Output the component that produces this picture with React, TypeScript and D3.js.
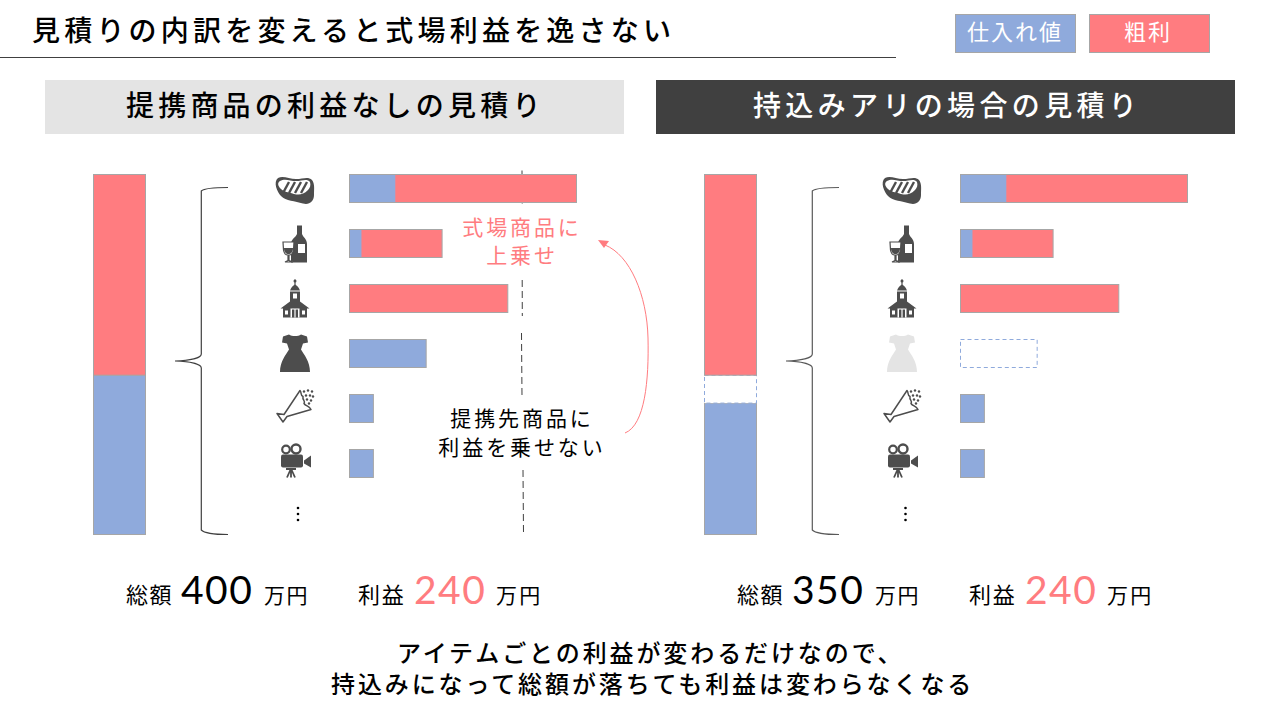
import React from "react";
import * as d3 from "d3";

const BLUE = "#8faadc";
const RED = "#ff7c80";
const EDGE = "#a6a6a6";
const DARK = "#404040";
const ICON = "#4d4d4d";
const JP = "'Noto Sans CJK JP', sans-serif";

// values (horizontal bar lengths / stack heights, arbitrary chart units)
const rowKeys = ["steak", "wine", "church", "dress", "flower", "camera"];
const costValues = [46, 12, 0, 77, 24, 24];
const profitValues = [182, 81, 159, 0, 0, 0];
const leftStack = [177, 223];
const rightStack = [146, 31, 223];
const panelOffsets = [0, 611];
const totals = ["400", "350"];
const profits = ["240", "240"];

const rowY = d3.scaleBand<string>().domain(rowKeys).range([174.5, 477.5]).paddingInner(27 / 55).paddingOuter(0);
const barX = d3.scaleLinear().domain([0, 228]).range([349.5, 576.5]);
const stackY = d3.scaleLinear().domain([0, 400]).range([534, 174]);

const dashSegments = [[170.5, 204, 522, 522.2], [280, 316, 522.2, 522.3], [333, 397, 521.5, 522], [470, 534, 523, 523.5]];
const dots = [-6, 0, 6];

function Txt({ x, y, s, size, ls = 0, fill = "#000", w = 400, anchor = "start", font = JP }: any) {
  return (
    <text x={x} y={y} fontSize={size} letterSpacing={ls} fill={fill} fontWeight={w} textAnchor={anchor} fontFamily={font}>
      {s}
    </text>
  );
}

function Icon({ name, fill }: { name: string; fill: string }) {
  const white = "#fff";
  if (name === "steak")
    return (
      <g transform="translate(0,1.5)">
        <path d="M-17,-12 C-12,-15 -6,-11 1,-11 C8,-11 13,-14 17,-10 C20,-6 19,-1 19,5 C19,12 14,15 8,13.5 C0,11 -9,11 -14,6 C-18,2 -22,-8 -17,-12Z" fill={fill} />
        <path d="M-15,-9 C-10,-12 -5,-9 1,-9 C7,-9 12,-12 15,-8 C16,-5 15,-2 13,0 C8,5 4,5 -1,4 C-7,2 -11,2 -14,-1 C-17,-4 -18,-7 -15,-9Z" fill={white} />
        {[-10, -4, 2, 8].map((d) => (
          <path key={d} d={`M${d - 2},3 L${d + 4},-8`} stroke={fill} strokeWidth={2.4} />
        ))}
      </g>
    );
  if (name === "wine")
    return (
      <g transform="translate(0,0.5)">
        <path d="M2,-18.5 H7 V-10 C8,-7 12,-5 12,0 V18.5 H-4 V0 C-4,-5 1,-7 2,-10 Z" fill={fill} />
        <rect x={3} y={0} width={7} height={9} fill={white} />
        <path d="M-12,-2 H-1 L-1.5,6 C-2,9 -4,11 -6,11 V16.5 L-2,18 H-10 L-7,16.5 V11 C-9,11 -11,9 -11.5,6 Z" fill={white} stroke={fill} strokeWidth={1.2} />
        <path d="M-11,4 H-2 C-2,8 -4,10 -6.5,10 C-9,10 -11,8 -11,4Z" fill={fill} />
      </g>
    );
  if (name === "church")
    return (
      <g>
        <circle cx={0} cy={-17.5} r={1.5} fill={fill} />
        <path d="M-0.6,-19 H0.6 V-13 H-0.6Z" fill={fill} />
        <path d="M-5,-8 C-4,-11 -2,-13 0,-14 C2,-13 4,-11 5,-8Z" fill={fill} />
        <path d="M-5,-7 H5 V3 L14.5,10 H-14.5 L-5,3Z" fill={fill} />
        <path d="M-12,9 H12 V19 H-12Z" fill={fill} />
        <rect x={-2} y={-5} width={4} height={5} fill={white} />
        <rect x={-10} y={12} width={3} height={4} fill={white} />
        <rect x={7} y={12} width={3} height={4} fill={white} />
        <rect x={-4.5} y={10} width={9} height={9} fill={white} />
        <rect x={-3} y={11} width={2.4} height={8} fill={fill} />
        <rect x={0.6} y={11} width={2.4} height={8} fill={fill} />
      </g>
    );
  if (name === "dress")
    return (
      <path d="M-6,-19 C-3,-17 3,-17 6,-19 L12,-17 L13,-11 L8,-10 L6,-4 C9,1 15,8 15,18.5 H-15 C-15,8 -9,1 -6,-4 L-8,-10 L-13,-11 L-12,-17Z" fill={fill} />
    );
  if (name === "flower")
    return (
      <g transform="translate(0,-3)">
        <path d="M5,-15 L-11,9 L-18,8 L-12,16.5 L-8,11 L16,4 C14,0 11,1 9,-2 C11,-5 7,-5 8,-9 C5,-10 7,-13 5,-15Z" fill="none" stroke={fill} strokeWidth={1.5} strokeLinejoin="round" />
        {[[9, -14], [13, -15], [17, -14], [11, -10], [15, -10], [18, -9], [12, -6], [16, -5], [14, -2]].map(([x, y], i) => (
          <circle key={i} cx={x} cy={y} r={1.2} fill={fill} />
        ))}
      </g>
    );
  return (
    <g transform="translate(0,-2)">
      <circle cx={-9} cy={-12} r={3.8} fill="none" stroke={fill} strokeWidth={2.2} />
      <circle cx={1} cy={-12.5} r={4.5} fill="none" stroke={fill} strokeWidth={2.4} />
      <rect x={-14} y={-7} width={22} height={13} rx={2} fill={fill} />
      <path d="M9,-1 L16,-6 V6 L9,2Z" fill={fill} />
      <path d="M-4,7 L-8,16 M-4,7 V16 M-4,7 L0,16" stroke={fill} strokeWidth={1.8} fill="none" />
      <rect x={-9} y={6.5} width={10} height={2} fill={fill} />
    </g>
  );
}

function Brace({ dx }: { dx: number }) {
  const path = `M228,187.5 C215,187.5 204,188.5 201.3,191 V354 C201.3,358 190,360.5 175,361 C190,361.5 201.3,364 201.3,368 V530 C204,533 215,534.5 228,534.5`;
  return <path d={path} transform={`translate(${dx},0)`} fill="none" stroke={dx ? "#595959" : DARK} strokeWidth={1.2} />;
}

function Panel({ dx, index }: { dx: number; index: number }) {
  const iconDx = index === 0 ? 295 : 902;
  const dressMissing = index === 1;
  return (
    <g>
      {rowKeys.map((key, i) => {
        const y = rowY(key)!;
        const h = rowY.bandwidth();
        const cost = costValues[i];
        const profit = profitValues[i];
        const ghost = dressMissing && key === "dress";
        const x0 = barX(0) + dx;
        const x1 = barX(cost) + dx;
        const x2 = barX(cost + profit) + dx;
        return (
          <g key={key}>
            <g transform={`translate(${iconDx},${y + h / 2})`}>
              <Icon name={key} fill={ghost ? "#e4e4e4" : ICON} />
            </g>
            {ghost ? (
              <rect x={x0} y={y} width={x1 - x0} height={h} fill="#fff" stroke={BLUE} strokeWidth={1} strokeDasharray="4 3" />
            ) : (
              <>
                <rect x={x0} y={y} width={x2 - x0} height={h} fill={profit ? RED : BLUE} stroke={EDGE} strokeWidth={1} />
                {cost > 0 && profit > 0 && <rect x={x0 + 0.5} y={y + 0.5} width={x1 - x0 - 0.5} height={h - 1} fill={BLUE} />}
              </>
            )}
          </g>
        );
      })}
      {dots.map((d) => (
        <circle key={d} cx={index === 0 ? 298 : 905.5} cy={514 + d} r={1.3} fill="#000" />
      ))}
      <Brace dx={dx} />
    </g>
  );
}

function Stack({ values, dx }: { values: number[]; dx: number }) {
  const hasGap = values.length === 3;
  const cum = d3.cumsum(values);
  return (
    <g>
      {values.map((v, i) => {
        const y1 = stackY(cum[i]);
        const y0 = stackY(cum[i] - v);
        const isRed = i === values.length - 1;
        const isGap = hasGap && i === 1;
        return (
          <rect
            key={i}
            x={93.5 + dx}
            y={y1 + 0.5}
            width={52}
            height={y0 - y1}
            fill={isGap ? "#fff" : isRed ? RED : BLUE}
            stroke={isGap ? BLUE : EDGE}
            strokeWidth={1}
            strokeDasharray={isGap ? "4 3" : undefined}
          />
        );
      })}
    </g>
  );
}

export default function App() {
  return (
    <svg width={1280} height={720} viewBox="0 0 1280 720" style={{ position: "fixed", left: 0, top: 0, background: "#fff" }}>
      <Txt x={32} y={41} s="見積りの内訳を変えると式場利益を逸さない" size={28} ls={4.2} w={500} />
      <line x1={0} x2={896} y1={57.5} y2={57.5} stroke={DARK} strokeWidth={1} />
      <rect x={955.5} y={14.5} width={120} height={38} fill={BLUE} stroke={EDGE} />
      <rect x={1089.5} y={14.5} width={120} height={38} fill={RED} stroke={EDGE} />
      <Txt x={967} y={40} s="仕入れ値" size={22} ls={2} fill="#fff" />
      <Txt x={1124} y={40} s="粗利" size={22} ls={2} fill="#fff" />

      <rect x={45} y={80} width={579} height={54} fill="#e4e4e4" />
      <rect x={656} y={80} width={579} height={54} fill={DARK} />
      <Txt x={126} y={116} s="提携商品の利益なしの見積り" size={28} ls={4.2} w={500} />
      <Txt x={753} y={116} s="持込みアリの場合の見積り" size={28} ls={4.35} w={500} fill="#fff" />

      {dashSegments.map(([y1, y2, x1, x2], i) => (
        <line key={i} x1={x1} x2={x2} y1={y1} y2={y2} stroke={DARK} strokeWidth={1} strokeDasharray="7 4" />
      ))}

      <Stack values={leftStack} dx={0} />
      <Stack values={rightStack} dx={611} />
      {panelOffsets.map((dx, i) => (
        <Panel key={dx} dx={dx} index={i} />
      ))}

      <Txt x={522} y={235} s="式場商品に" size={21} ls={2.9} fill={RED} anchor="middle" />
      <Txt x={522} y={263} s="上乗せ" size={21} ls={2.9} fill={RED} anchor="middle" />
      <Txt x={522} y={426} s="提携先商品に" size={21} ls={2.9} anchor="middle" />
      <Txt x={522} y={455} s="利益を乗せない" size={21} ls={2.9} anchor="middle" />

      <path d="M625,433 C645,425 649,380 648,338 C647,295 630,255 605,245" fill="none" stroke={RED} strokeWidth={1} />
      <path d="M598,240 L609,241 L604,248Z" fill={RED} />

      {panelOffsets.map((dx, i) => (
        <g key={dx} transform={`translate(${dx},0)`}>
          <Txt x={126} y={603} s="総額" size={22} ls={1.5} />
          <Txt x={181} y={604} s={totals[i]} size={39} ls={1.5} w={400} font="Lato, sans-serif" />
          <Txt x={264} y={603} s="万円" size={21} ls={1.5} />
          <Txt x={358} y={603} s="利益" size={22} ls={1.8} />
          <Txt x={414} y={604} s={profits[i]} size={39} ls={1.5} w={400} fill={RED} font="Lato, sans-serif" />
          <Txt x={496} y={603} s="万円" size={21} ls={2.2} />
        </g>
      ))}

      <Txt x={397} y={662} s="アイテムごとの利益が変わるだけなので、" size={24} ls={2.9} w={500} />
      <Txt x={331} y={693} s="持込みになって総額が落ちても利益は変わらなくなる" size={24} ls={2.9} w={500} />
    </svg>
  );
}
